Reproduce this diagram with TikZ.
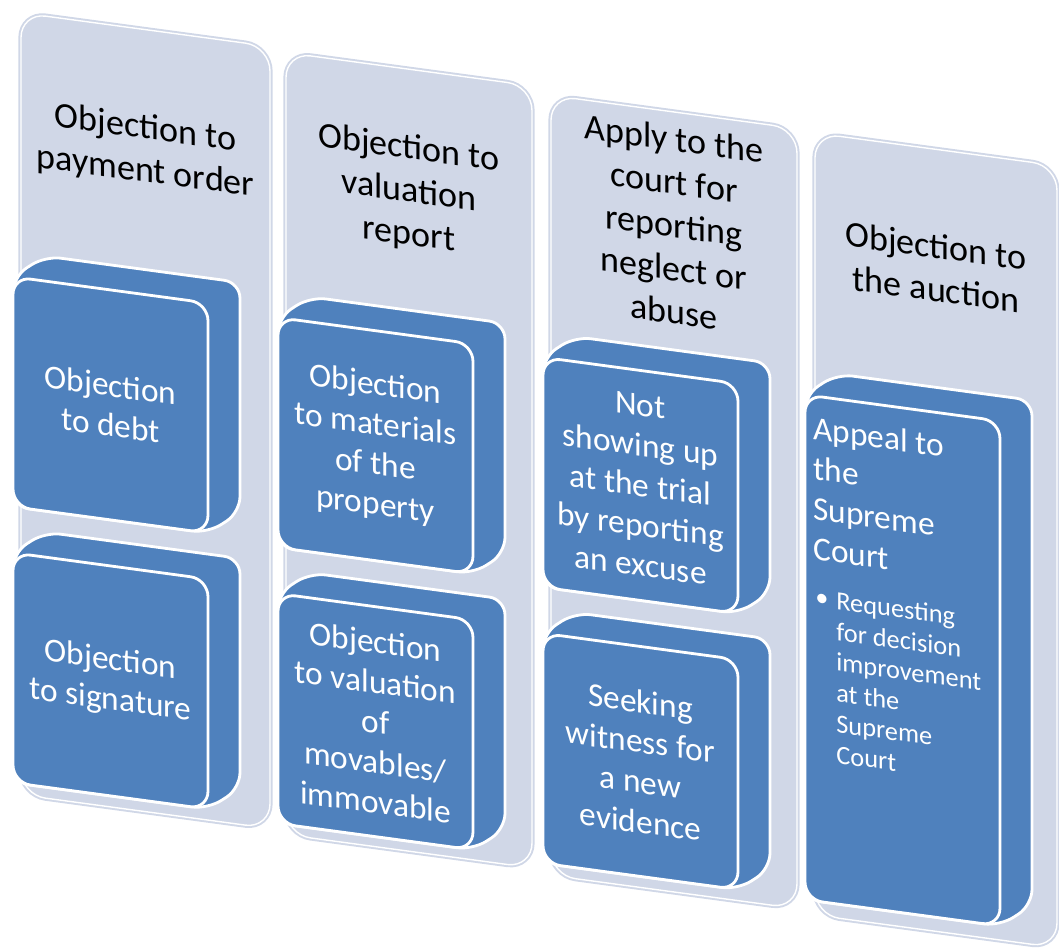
\documentclass[tikz,border=0pt]{standalone}
\usepackage{fontspec}
\setmainfont{Carlito}
\usepackage{tikz}

\definecolor{panelblue}{RGB}{208,215,231}
\definecolor{boxblue}{RGB}{79,129,189}

\tikzset{
	panel/.style={fill=panelblue, draw=panelblue, double=white, double distance=0.8pt, line width=1.1pt, rounded corners=14pt},
	side/.style={fill=boxblue, draw=white, line width=1.6pt, rounded corners=9pt, line join=round},
	front/.style={draw=white, fill=boxblue, line width=1.6pt, rounded corners=10pt, rectangle, minimum width=3.9cm, minimum height=4.6cm, inner sep=0pt, transform shape, text=white, align=center, font=\fontsize{19}{22.8}\selectfont},
	title/.style={align=center, inner sep=0pt, transform shape, font=\fontsize{20.5}{24.6}\selectfont},
}

\begin{document}
\begin{tikzpicture}[x=0.02cm, y=-0.02cm]

	\useasboundingbox (0,0) rectangle (1059,949);

	\begin{scope}[yslant=-0.135]

	% columns
	\draw[panel] (21,10) rectangle (270,792);
	\draw[panel] (286,14) rectangle (532,796);
	\draw[panel] (551,21) rectangle (797,801);
	\draw[panel] (815,23) rectangle (1057,805);

	\node (payment) at (145.5,131) [title]{Objection to\\payment order};
	\node (valuation) at (409,137) [title]{Objection to\\valuation\\report};
	\node (court) at (674,134) [title]{Apply to the\\court for\\reporting\\neglect or\\abuse};
	\node (auction) at (936,141) [title]{Objection to\\the auction};

	% first column
	\draw[side] (13,275) -- (45,250) -- (240,250) -- (240,480) -- (208,505) -- (13,505) -- cycle;
	\node (debt) at (110.5,390) [front]{Objection\\to debt};

	\draw[side] (13,551) -- (45,526) -- (240,526) -- (240,756) -- (208,781) -- (13,781) -- cycle;
	\node (signature) at (110.5,666) [front]{Objection\\to signature};

	% second column
	\draw[side] (278,280) -- (310,255) -- (505,255) -- (505,485) -- (473,510) -- (278,510) -- cycle;
	\node (materials) at (375.5,395) [front]{Objection\\to materials\\of the\\property};

	\draw[side] (278,556) -- (310,531) -- (505,531) -- (505,761) -- (473,786) -- (278,786) -- cycle;
	\node (movables) at (375.5,671) [front]{Objection\\to valuation\\of\\movables/\\immovable};

	% third column
	\draw[side] (543,284) -- (575,259) -- (770,259) -- (770,489) -- (738,514) -- (543,514) -- cycle;
	\node (trial) at (640.5,399) [front]{Not\\showing up\\at the trial\\by reporting\\an excuse};

	\draw[side] (543,560) -- (575,535) -- (770,535) -- (770,765) -- (738,790) -- (543,790) -- cycle;
	\node (witness) at (640.5,675) [front]{Seeking\\witness for\\a new\\evidence};

	% fourth column
	\draw[side] (805,286) -- (837,261) -- (1032,261) -- (1032,766) -- (1000,791) -- (805,791) -- cycle;
	\node (appeal) at (902.5,538.5) [front, minimum height=10.1cm]{};

	\node (supreme) at (813,306) [anchor=north west, inner sep=0pt, transform shape, text=white, align=left, font=\fontsize{19}{22.8}\selectfont]{Appeal to\\the\\Supreme\\Court};
	\node (dot) at (822,489) [inner sep=0pt, transform shape, text=white, font=\fontsize{15}{17.5}\selectfont]{\textbullet};
	\node (request) at (836,478) [anchor=north west, inner sep=0pt, transform shape, text=white, align=left, font=\fontsize{15}{17.5}\selectfont]{Requesting\\for decision\\improvement\\at the\\Supreme\\Court};

	\end{scope}

\end{tikzpicture}
\end{document}
